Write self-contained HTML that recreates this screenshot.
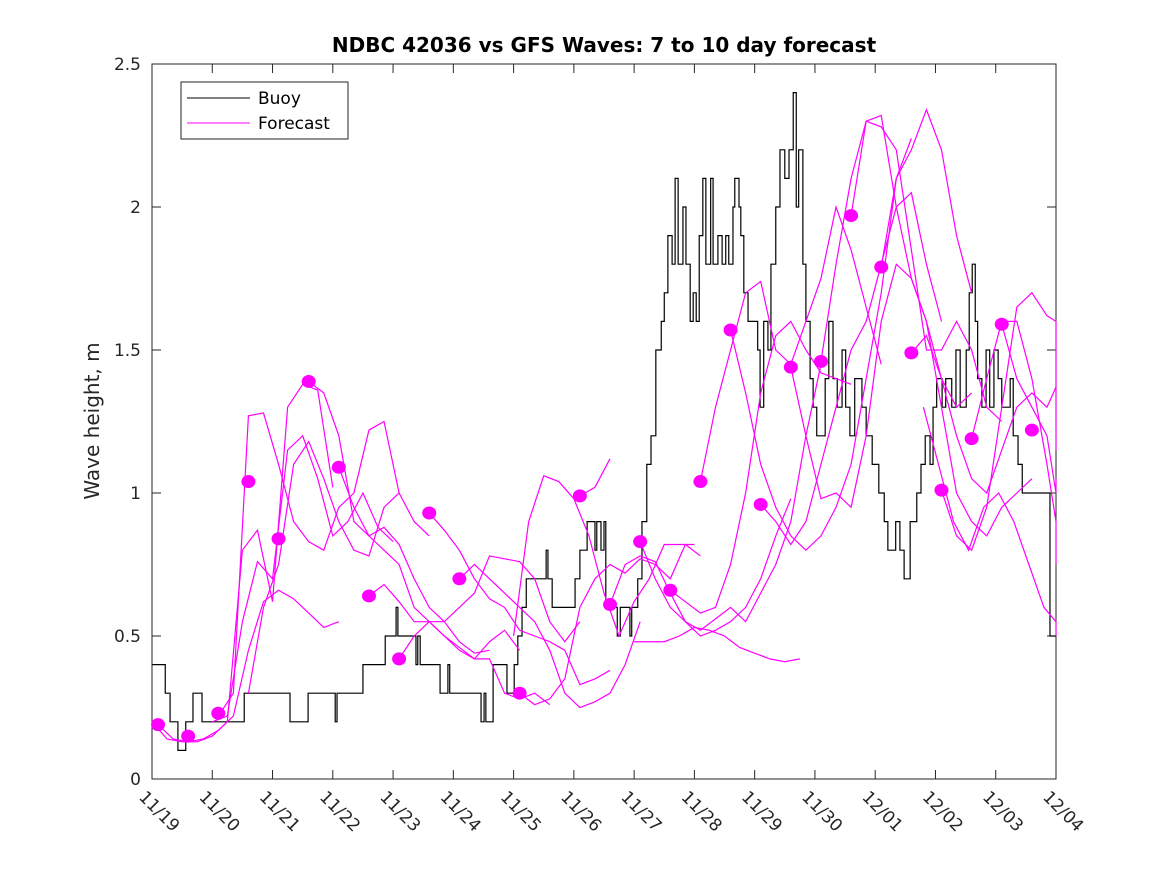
<!DOCTYPE html>
<html><head><meta charset="utf-8"><style>
body{margin:0;background:#fff;}
svg{display:block;font-family:"DejaVu Sans","Liberation Sans",sans-serif;}
</style></head><body>
<svg id="chart" width="1167" height="875" xmlns="http://www.w3.org/2000/svg">
<rect width="1167" height="875" fill="#fff"/>
<text x="604" y="52" text-anchor="middle" font-size="20" font-weight="bold" fill="#000">NDBC 42036 vs GFS Waves: 7 to 10 day forecast</text>
<text transform="translate(99,421) rotate(-90)" text-anchor="middle" font-size="20" fill="#262626">Wave height, m</text>
<g id="plot"></g>
</svg>
<script>
const dayLabels=["11/19","11/20","11/21","11/22","11/23","11/24","11/25","11/26","11/27","11/28","11/29","11/30","12/01","12/02","12/03","12/04"];
const yTicks=[0,0.5,1,1.5,2,2.5];
const buoyT=[0,.22,.30,.43,.56,.68,.83,1.53,2.29,2.59,3.04,3.07,3.50,3.87,4.05,4.08,4.38,4.41,4.45,4.78,4.91,4.94,5.46,5.51,5.54,5.66,5.89,6.01,6.07,6.14,6.21,6.54,6.57,6.64,7.02,7.10,7.22,7.35,7.38,7.45,7.50,7.53,7.72,7.77,7.93,7.96,8.06,8.13,8.21,8.28,8.36,8.45,8.50,8.56,8.63,8.68,8.73,8.81,8.86,8.93,8.98,9.03,9.08,9.14,9.19,9.27,9.31,9.39,9.46,9.52,9.57,9.64,9.67,9.74,9.77,9.82,9.89,9.99,10.05,10.09,10.15,10.22,10.27,10.35,10.42,10.50,10.57,10.64,10.69,10.73,10.80,10.85,10.92,10.97,11.03,11.17,11.23,11.30,11.37,11.45,11.51,11.58,11.66,11.78,11.85,11.95,12.06,12.15,12.21,12.34,12.41,12.48,12.58,12.69,12.76,12.83,12.91,12.96,13.02,13.11,13.17,13.27,13.34,13.41,13.51,13.56,13.61,13.66,13.70,13.77,13.84,13.90,13.97,14.04,14.10,14.17,14.24,14.29,14.37,14.44,14.90];
const buoyV=[0.4,0.3,0.2,0.1,0.2,0.3,0.2,0.3,0.2,0.3,0.2,0.3,0.4,0.5,0.6,0.5,0.4,0.5,0.4,0.3,0.4,0.3,0.2,0.3,0.2,0.4,0.3,0.4,0.5,0.6,0.7,0.8,0.7,0.6,0.7,0.8,0.9,0.8,0.9,0.8,0.9,0.6,0.5,0.6,0.5,0.6,0.7,0.9,1.1,1.2,1.5,1.6,1.7,1.9,1.8,2.1,1.8,2.0,1.8,1.6,1.7,1.6,1.9,2.1,1.8,2.1,1.8,1.9,1.8,1.9,1.8,2.0,2.1,2.0,1.9,1.7,1.6,1.6,1.5,1.3,1.6,1.5,1.8,2.0,2.2,2.1,2.2,2.4,2.0,2.2,1.8,1.6,1.4,1.3,1.2,1.4,1.6,1.4,1.3,1.5,1.3,1.2,1.4,1.3,1.2,1.1,1.0,0.9,0.8,0.9,0.8,0.7,0.9,1.0,1.1,1.2,1.1,1.3,1.4,1.3,1.4,1.3,1.5,1.3,1.5,1.7,1.8,1.6,1.4,1.3,1.5,1.3,1.5,1.4,1.3,1.3,1.4,1.2,1.1,1.0,0.5];
// forecasts: start day, values every 0.25 day
const fcStart=[0,0.1,1.0,1.1,1.6,2.6,3.1,3.6,4.1,4.6,5.1,6.0,6.1,7.1,7.6,8.0,8.1,8.6,9.1,9.6,10.1,10.6,11.1,11.6,12.1,12.6,12.8,13.1,13.6,14.1];
const fcVals=[
[0.20,0.14,0.13,0.13,0.15,0.20,0.80,0.87,0.62,1.30,1.38,1.36,1.02],
[0.19,0.14,0.13,0.14,0.17,0.22,0.45,0.62,0.66,0.63,0.58,0.53,0.55],
[0.20,0.22,0.55,0.76,0.70,1.15,1.20,1.05,0.85,0.90,1.00,0.88,0.83],
[0.22,0.30,1.27,1.28,1.10,0.90,0.83,0.80,0.95,1.00,1.22,1.25,1.00],
[0.30,0.60,0.75,1.10,1.18,1.05,0.90,0.80,0.78,0.95,1.00,0.90,0.85],
[1.39,1.35,1.20,0.90,0.85,0.88,0.82,0.70,0.60,0.55,0.48,0.44,0.45],
[1.09,0.95,0.85,0.80,0.75,0.60,0.55,0.50,0.45,0.42,0.48,0.52,0.45],
[0.64,0.68,0.62,0.55,0.55,0.50,0.46,0.42,0.42,0.30,0.28,0.30,0.26],
[0.42,0.50,0.55,0.55,0.60,0.65,0.78,0.77,0.76,0.70,0.55,0.48,0.55],
[0.93,0.87,0.80,0.70,0.63,0.60,0.52,0.50,0.48,0.45,0.33,0.35,0.38],
[0.70,0.75,0.70,0.65,0.60,0.55,0.45,0.30,0.25,0.27,0.30,0.40,0.55],
[0.50,0.90,1.06,1.04,0.98,0.85,0.65,0.50,0.62,0.70,0.82,0.82,0.82],
[0.30,0.26,0.28,0.35,0.60,0.70,0.75,0.72,0.77,0.75,0.70,0.82,0.78],
[0.99,1.02,1.12],
[0.61,0.75,0.78,0.76,0.65,0.55,0.50,0.52,0.55,0.60,0.70,0.85,0.98],
[0.48,0.48,0.48,0.50,0.53,0.52,0.50,0.46,0.44,0.42,0.41,0.42],
[0.83,0.70,0.60,0.55,0.52,0.56,0.60,0.55,0.65,0.75,0.90,1.20,1.45],
[0.66,0.62,0.58,0.60,0.75,1.00,1.35,1.55,1.60,1.50,1.42,1.40,1.38],
[1.04,1.30,1.50,1.70,1.74,1.50,1.45,1.60,1.75,2.00,1.85,1.65,1.45],
[1.57,1.35,1.10,0.95,0.85,0.80,0.85,0.95,1.10,1.40,1.70,2.10,2.24],
[0.96,0.90,0.82,0.90,1.10,1.30,1.50,1.60,1.80,2.00,2.05,1.80,1.60],
[1.44,1.20,0.98,1.00,0.95,1.20,1.60,1.80,1.75,1.60,1.40,1.30,1.35],
[1.46,1.80,2.10,2.30,2.28,2.20,1.85,1.50,1.50,1.60,1.50,1.30,1.25],
[1.97,2.30,2.32,2.00,1.75,1.60,1.30,1.00,0.90,0.85,0.95,1.00,1.05],
[1.79,2.10,2.20,2.34,2.20,1.90,1.70],
[1.49,1.55,1.40,1.20,1.05,1.00,1.15,1.30,1.35,1.30,1.37],
[1.30,1.10,0.90,0.80,0.95,1.00,0.90,0.75,0.60,0.55,0.52,0.50],
[1.01,0.85,0.80,0.95,1.30,1.65,1.70,1.62,1.60,1.45,1.30,1.15],
[1.19,1.40,1.60,1.60,1.40,1.10,0.90,0.75],
[1.59,1.40,1.30,1.20,1.00,1.00,1.05]];
const dotT=[0.1,0.6,1.1,1.6,2.1,2.6,3.1,3.6,4.1,4.6,5.1,6.1,7.1,7.6,8.1,8.6,9.1,9.6,10.1,10.6,11.1,11.6,12.1,12.6,13.1,13.6,14.1,14.6];
const dotV=[0.19,0.15,0.23,1.04,0.84,1.39,1.09,0.64,0.42,0.93,0.70,0.30,0.99,0.61,0.83,0.66,1.04,1.57,0.96,1.44,1.46,1.97,1.79,1.49,1.01,1.19,1.59,1.22];

const L=152,R=1056,T=64,B=779;
const xs=t=>L+(R-L)*t/15;
const ys=v=>B-(B-T)*v/2.5;
const NS="http://www.w3.org/2000/svg";
const g=document.getElementById('plot');
function mk(tag,attrs){const e=document.createElementNS(NS,tag);for(const k in attrs)e.setAttribute(k,attrs[k]);g.appendChild(e);return e;}
const bg=mk('rect',{x:L,y:T,width:R-L,height:B-T,fill:'#fff',stroke:'#262626','stroke-width':1});


dayLabels.forEach((lab,i)=>{
  const x=xs(i);
  const t1=mk('line',{x1:x,y1:B,x2:x,y2:B-9,stroke:'#262626'});
  
  
  const t2=mk('line',{x1:x,y1:T,x2:x,y2:T+9,stroke:'#262626'});
  
  
  const tx=mk('text',{transform:`translate(${x-14},${B+19}) rotate(45)`,'font-size':17,fill:'#262626'});
  tx.textContent=lab;
  
  
});
yTicks.forEach(v=>{
  const y=ys(v);
  const a=mk('line',{x1:L,y1:y,x2:L+9,y2:y,stroke:'#262626'});
  
  
  const b=mk('line',{x1:R,y1:y,x2:R-9,y2:y,stroke:'#262626'});
  
  
  const tx=mk('text',{x:L-11,y:y+6,'text-anchor':'end','font-size':17,fill:'#262626'});
  tx.textContent=String(v);
  
  
});
// buoy step line
let d='';
buoyT.forEach((t,i)=>{const x=xs(t),y=ys(buoyV[i]);d+= i===0?`M${x},${y}`:`H${x}V${y}`;});
d+=`H${xs(15)}`;
const bp=mk('path',{d:d,fill:'none',stroke:'#000','stroke-width':1.2});


// forecasts
fcStart.forEach((t0,i)=>{
  const pts=fcVals[i].map((v,j)=>`${xs(Math.min(15,t0+0.25*j))},${ys(v)}`).join(' ');
  const p=mk('polyline',{points:pts,fill:'none',stroke:'#ff00ff','stroke-width':1.2});
  
  
});
dotT.forEach((t,i)=>{
  const c=mk('ellipse',{cx:xs(t),cy:ys(dotV[i]),rx:7,ry:6.5,fill:'#ff00ff'});
  
  
});
// legend
const lg=mk('rect',{x:181,y:82,width:167,height:57,fill:'#fff',stroke:'#262626'});


const l1=mk('line',{x1:187,y1:98,x2:250,y2:98,stroke:'#000'});


const l2=mk('line',{x1:187,y1:123,x2:250,y2:123,stroke:'#ff00ff'});


const lt1=mk('text',{x:258,y:104,'font-size':17,fill:'#000'});lt1.textContent='Buoy';


const lt2=mk('text',{x:258,y:129,'font-size':17,fill:'#000'});lt2.textContent='Forecast';


</script>
</body></html>
